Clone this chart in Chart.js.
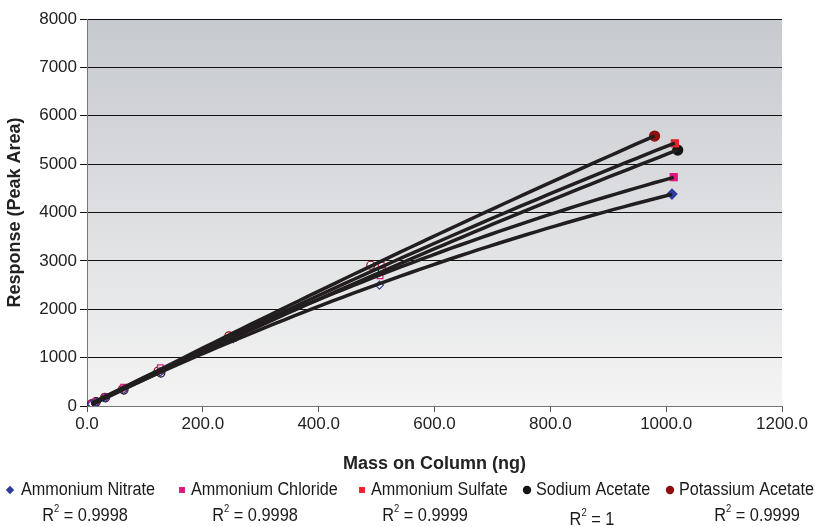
<!DOCTYPE html>
<html>
<head>
<meta charset="utf-8">
<script src="https://cdn.jsdelivr.net/npm/chart.js@4.4.0/dist/chart.umd.min.js"></script>
<style>
  html, body { margin: 0; padding: 0; background: #fff; }
  #wrap { width: 815px; height: 527px; }
</style>
</head>
<body>
<div id="wrap"><canvas id="chart"></canvas></div>
<script>
// series names and look
const seriesNames = ['Ammonium Nitrate', 'Ammonium Chloride', 'Ammonium Sulfate', 'Sodium Acetate', 'Potassium Acetate'];
const seriesColors = ['#2f3c9c', '#e0177f', '#e8222c', '#141414', '#8e0d0d'];
const seriesMarkers = ['rectRot', 'rect', 'rect', 'circle', 'circle'];
const r2Values = ['0.9998', '0.9998', '0.9999', '1', '0.9999'];

// mass on column (ng) per series
const nitrateMass   = [7.9, 15.8, 31.6, 63.1, 126.3, 252.5, 505, 1010];
const chlorideMass  = [7.9, 15.8, 31.7, 63.3, 126.6, 253, 506, 1013];
const sulfateMass   = [7.9, 15.9, 31.7, 63.4, 126.9, 254, 508, 1015];
const sodiumMass    = [8.0, 15.9, 31.9, 63.8, 127.5, 255, 510, 1020];
const potassiumMass = [7.7, 15.3, 30.6, 61.3, 122.5, 245, 490, 980];

// response (peak area) per series
const nitrateArea   = [40, 85, 170, 340, 700, 1390, 2500, 4380];
const chlorideArea  = [45, 95, 190, 390, 790, 1450, 2690, 4730];
const sulfateArea   = [45, 90, 180, 350, 720, 1430, 2910, 5430];
const sodiumArea    = [40, 85, 170, 330, 680, 1420, 2800, 5290];
const potassiumArea = [45, 90, 180, 350, 720, 1450, 2910, 5580];

const xTicks = [0, 200, 400, 600, 800, 1000, 1200];
const yTicks = [0, 1000, 2000, 3000, 4000, 5000, 6000, 7000, 8000];

const masses = [nitrateMass, chlorideMass, sulfateMass, sodiumMass, potassiumMass];
const areas = [nitrateArea, chlorideArea, sulfateArea, sodiumArea, potassiumArea];

// 2nd order polynomial least squares (the trendlines in the original)
function quadFit(xs, ys) {
  const s = [0, 0, 0, 0, 0], t = [0, 0, 0];
  xs.forEach((x, i) => {
    for (let k = 0; k < 5; k++) s[k] += Math.pow(x, k);
    for (let k = 0; k < 3; k++) t[k] += ys[i] * Math.pow(x, k);
  });
  const m = [[s[0], s[1], s[2], t[0]], [s[1], s[2], s[3], t[1]], [s[2], s[3], s[4], t[2]]];
  for (let i = 0; i < 3; i++) {
    for (let j = i + 1; j < 3; j++) {
      const f = m[j][i] / m[i][i];
      for (let k = i; k < 4; k++) m[j][k] -= f * m[i][k];
    }
  }
  const c = [0, 0, 0];
  for (let i = 2; i >= 0; i--) {
    let v = m[i][3];
    for (let k = i + 1; k < 3; k++) v -= m[i][k] * c[k];
    c[i] = v / m[i][i];
  }
  return c;
}

function trendPoints(xs, ys) {
  const c = quadFit(xs, ys);
  const pts = [];
  const x0 = xs[0], x1 = xs[xs.length - 1];
  for (let i = 0; i <= 60; i++) {
    const x = x0 + (x1 - x0) * i / 60;
    pts.push({ x: x, y: c[0] + c[1] * x + c[2] * x * x });
  }
  return pts;
}

const datasets = [];
seriesNames.forEach((name, i) => {
  const last = masses[i].length - 1;
  datasets.push({
    label: name,
    data: masses[i].map((x, j) => ({ x: x, y: areas[i][j] })),
    pointStyle: seriesMarkers[i],
    pointRadius: ctx => ctx.dataIndex === last ? 5 : 4,
    borderColor: seriesColors[i],
    backgroundColor: seriesColors[i],
    pointBackgroundColor: ctx => ctx.dataIndex === last ? seriesColors[i] : 'rgba(255,255,255,0.5)',
    pointBorderWidth: 1.2,
    showLine: false,
    order: 2
  });
});
seriesNames.forEach((name, i) => {
  datasets.push({
    label: name + ' trend',
    data: trendPoints(masses[i], areas[i]),
    borderColor: '#221e1f',
    borderWidth: 3.5,
    pointRadius: 0,
    showLine: true,
    fill: false,
    tension: 0,
    order: 1
  });
});

const fontFam = '"Liberation Sans", Arial, sans-serif';

const plotBackground = {
  id: 'plotBackground',
  beforeDraw(chart) {
    const a = chart.chartArea, ctx = chart.ctx;
    const g = ctx.createLinearGradient(0, a.top, 0, a.bottom);
    g.addColorStop(0, '#c6c9ce');
    g.addColorStop(1, '#f4f4f4');
    ctx.save();
    ctx.fillStyle = g;
    ctx.fillRect(a.left, a.top, a.right - a.left, a.bottom - a.top);
    ctx.restore();
  }
};

// narrow-looking text, like the Arial Narrow of the original
function narrowText(ctx, text, x, y, sx) {
  ctx.save();
  ctx.translate(x, y);
  ctx.scale(sx, 1);
  ctx.fillText(text, 0, 0);
  ctx.restore();
  return ctx.measureText(text).width * sx;
}

// legend row and R² row under the x axis title
const legendMarkX = [10, 182, 362, 527, 670];
const r2Centers = [85, 255, 425, 592, 757];
const bottomRows = {
  id: 'bottomRows',
  afterDraw(chart) {
    const ctx = chart.ctx;
    ctx.save();
    ctx.textBaseline = 'middle';
    ctx.textAlign = 'left';
    seriesNames.forEach((name, i) => {
      const mx = legendMarkX[i], my = 490;
      ctx.fillStyle = seriesColors[i];
      Chart.helpers.drawPoint(ctx, { pointStyle: seriesMarkers[i], radius: 4.2, borderWidth: 0, rotation: 0 }, mx, my);
      ctx.fillStyle = '#1a1a1a';
      ctx.font = '18px ' + fontFam;
      narrowText(ctx, name, mx + (i === 0 ? 11 : 9), my, 0.9);
    });
    ctx.textBaseline = 'alphabetic';
    r2Values.forEach((v, i) => {
      const y = i === 3 ? 525 : 521;
      const sx = 0.86;
      ctx.font = '19px ' + fontFam;
      const wR = ctx.measureText('R').width * sx;
      const rest = ' = ' + v;
      const wRest = ctx.measureText(rest).width * sx;
      ctx.font = '11px ' + fontFam;
      const w2 = ctx.measureText('2').width * sx;
      const x0 = r2Centers[i] - (wR + w2 + wRest) / 2;
      ctx.font = '19px ' + fontFam;
      narrowText(ctx, 'R', x0, y, sx);
      ctx.font = '11px ' + fontFam;
      narrowText(ctx, '2', x0 + wR, y - 9, sx);
      ctx.font = '19px ' + fontFam;
      narrowText(ctx, rest, x0 + wR + w2, y, sx);
    });
    ctx.restore();
  }
};

new Chart(document.getElementById('chart').getContext('2d'), {
  type: 'scatter',
  data: { datasets: datasets },
  options: {
    responsive: true,
    maintainAspectRatio: false,
    animation: false,
    layout: { padding: { top: 19, right: 33, left: 0, bottom: 51 } },
    scales: {
      x: {
        type: 'linear',
        min: 0,
        max: 1200,
        afterBuildTicks: s => { s.ticks = xTicks.map(v => ({ value: v })); },
        afterFit: s => { s.height = 70; },
        grid: { drawOnChartArea: false, color: '#555', tickLength: 6 },
        border: { color: '#777', width: 1 },
        ticks: { color: '#222', font: { size: 17, family: fontFam }, padding: 2, callback: v => v.toFixed(1) },
        title: { display: true, text: 'Mass on Column (ng)', color: '#222', font: { size: 18, weight: 'bold', family: fontFam }, padding: { top: 0, bottom: 1 } }
      },
      y: {
        min: 0,
        max: 8000,
        afterBuildTicks: s => { s.ticks = yTicks.map(v => ({ value: v })); },
        afterFit: s => { s.width = 87; },
        grid: { color: '#111', lineWidth: 1, tickLength: 7 },
        border: { color: '#777', width: 1 },
        ticks: { color: '#222', font: { size: 17, family: fontFam }, padding: 3, callback: v => String(v) },
        title: { display: true, text: 'Response (Peak Area)', color: '#222', font: { size: 18, weight: 'bold', family: fontFam }, padding: { top: 4, bottom: 4 } }
      }
    },
    plugins: {
      legend: { display: false },
      tooltip: { enabled: false }
    }
  },
  plugins: [plotBackground, bottomRows]
});
</script>
</body>
</html>
